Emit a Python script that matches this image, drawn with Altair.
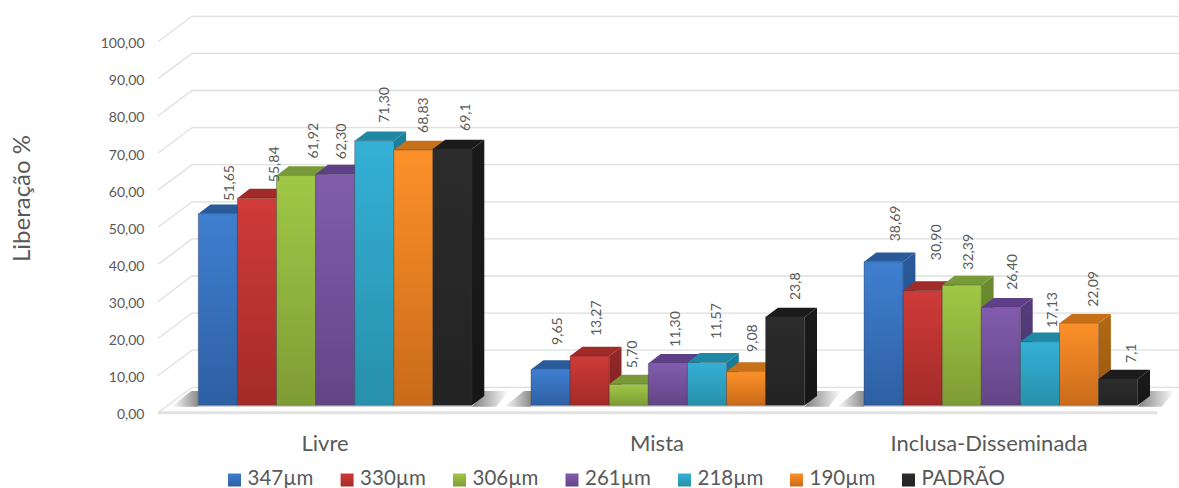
import altair as alt
import pandas as pd

# Release percentage per morphology class and particle size
groups = ["Livre", "Mista", "Inclusa-Disseminada"]
series = ["347µm", "330µm", "306µm", "261µm", "218µm", "190µm", "PADRÃO"]
livre = [51.65, 55.84, 61.92, 62.30, 71.30, 68.83, 69.1]
mista = [9.65, 13.27, 5.70, 11.30, 11.57, 9.08, 23.8]
inclusa = [38.69, 30.90, 32.39, 26.40, 17.13, 22.09, 7.1]
table = [livre, mista, inclusa]
y_ticks = [0, 10, 20, 30, 40, 50, 60, 70, 80, 90, 100]

# Face colours per series: front top, front bottom, top face, side top, side bottom
faces = [
    ("#3f7fd0", "#2e5fa3", "#295a9a", "#2a5a9a", "#234b80"),
    ("#cf3b38", "#a32b29", "#a02b29", "#94292a", "#7e2120"),
    ("#a0c846", "#7f9c35", "#789a38", "#6a8c2e", "#5b7826"),
    ("#815cae", "#634586", "#5f3f88", "#553c7c", "#483367"),
    ("#34b0d6", "#2890ab", "#1f88a5", "#1c7f9c", "#196f88"),
    ("#fd9029", "#c96b1b", "#c7701a", "#b46a14", "#96550f"),
    ("#2c2c2c", "#232323", "#1b1b1b", "#1a1a1a", "#161616"),
]

# Layout of the pseudo-3D scene, in pixels of the drawing area
LEFT = 158.0
WIDTH = 1021.0
HEIGHT = 488.0
SLOT = 39.1            # px per bar
PX_PER_UNIT = 3.71     # px per percentage point
FLOOR_Y = 412.7
GROUP_LEFT = [198.3, 531.0, 864.0]


def sx(px):
    return (px - LEFT) / SLOT


def sy(py):
    return (FLOOR_Y - py) / PX_PER_UNIT


BASE = sy(405.3)       # bar feet sit a little behind the front floor edge
DEPTH_X = 12.3 / SLOT
DEPTH_Y = 9.3 / PX_PER_UNIT
WALL_X = 34.0 / SLOT
WALL_Y = 25.4 / PX_PER_UNIT

# Hand placement of the value labels relative to each bar's front top (px right, px up)
label_nudge = [
    [(12, 13), (18, 16), (17.5, 17), (6.5, 15), (11, 18), (11, 17), (14, 18)],
    [(7.5, 24.6), (7.4, 20), (4.3, 16), (8, 16.5), (10, 23.5), (7, 19.7), (11, 17)],
    [(12.5, 20.5), (14, 30.5), (7.3, 15.5), (12.5, 17.6), (12.7, 14), (15, 16.6), (13.7, 16)],
]

legend_left = [228, 340.6, 453, 565.5, 678, 790, 902]
group_center = [325, 657, 989]

FONT = "Lato"
TEXT = "#595959"
GRID = "#dedede"

x_scale = alt.Scale(domain=[0, WIDTH / SLOT], nice=False, zero=False)
y_scale = alt.Scale(domain=[sy(HEIGHT), sy(0)], nice=False, zero=False)

# Every layer carries the same value axis so that the merged axis stays visible
value_axis = alt.Axis(
    values=y_ticks,
    labelExpr="replace(format(datum.value, '.2f'), '.', ',')",
    domain=False,
    ticks=False,
    grid=False,
    labelFont=FONT,
    labelFontSize=14,
    labelColor=TEXT,
    labelPadding=14,
    labelOffset=2,
    title="Liberação %",
    titleFont=FONT,
    titleFontSize=24,
    titleFontWeight="normal",
    titleColor=TEXT,
    titleX=-124,
    titleY=198,
    titleAngle=270,
)


def X(field="x"):
    return alt.X(f"{field}:Q", scale=x_scale, axis=None)


def Y(field="y"):
    return alt.Y(f"{field}:Q", scale=y_scale, axis=value_axis)


def vgrad(top, bottom):
    return alt.Gradient(
        gradient="linear",
        stops=[alt.GradientStop(color=top, offset=0), alt.GradientStop(color=bottom, offset=1)],
        x1=0, x2=0, y1=0, y2=1,
    )


def hgrad(left, right):
    return alt.Gradient(
        gradient="linear",
        stops=[alt.GradientStop(color=left, offset=0), alt.GradientStop(color=right, offset=1)],
        x1=0, x2=1, y1=0, y2=0,
    )


layers = []

# Back wall gridlines with their slanted run down the left side wall
wall_rows = []
for v in y_ticks:
    wall_rows += [
        {"tick": v, "x": 0, "y": v},
        {"tick": v, "x": WALL_X, "y": v + WALL_Y},
        {"tick": v, "x": WIDTH / SLOT, "y": v + WALL_Y},
    ]
layers.append(
    alt.Chart(pd.DataFrame(wall_rows))
    .mark_line(color=GRID, strokeWidth=1.3)
    .encode(x=X(), y=Y(), detail="tick:N")
)

# Front edge of the floor
layers.append(
    alt.Chart(pd.DataFrame([{"x": 0, "y": 0}, {"x": sx(1157), "y": 0}]))
    .mark_line(color="#e2e2e2", strokeWidth=3)
    .encode(x=X(), y=Y())
)

# Soft floor shadows around each group of bars
FOOT = sy(406.8)
SHADOW_TOP = sy(391)
for g, left in enumerate(GROUP_LEFT):
    right = left + 7 * SLOT
    left_rows = [
        {"y": FOOT, "x": sx(left - 27), "x2": sx(left)},
        {"y": SHADOW_TOP, "x": sx(left - 7), "x2": sx(left)},
    ]
    layers.append(
        alt.Chart(pd.DataFrame(left_rows))
        .mark_area(orient="horizontal", fill=hgrad("#ffffff", "#8a8a8a"))
        .encode(x=X(), x2="x2:Q", y=Y())
    )
    right_rows = [
        {"y": FOOT, "x": sx(right), "x2": sx(right + 24)},
        {"y": SHADOW_TOP, "x": sx(right + 12), "x2": sx(right + 37)},
    ]
    layers.append(
        alt.Chart(pd.DataFrame(right_rows))
        .mark_area(orient="horizontal", fill=hgrad("#808080", "#ffffff"))
        .encode(x=X(), x2="x2:Q", y=Y())
    )
    layers.append(
        alt.Chart(pd.DataFrame([{"x": sx(left), "x2": sx(right), "y": BASE, "y2": FOOT}]))
        .mark_rect(fill="#c4c4c4")
        .encode(x=X(), x2="x2:Q", y=Y(), y2="y2:Q")
    )

# Bars, painted left to right so that each front face covers its neighbour's side
for s, name in enumerate(series):
    front_top, front_bottom, top_face, side_top, side_bottom = faces[s]
    front_rows, top_rows, side_rows = [], [], []
    for g, values in enumerate(table):
        value = values[s]
        x0 = sx(GROUP_LEFT[g]) + s
        x1 = x0 + 1
        peak = BASE + value
        front_rows.append({"x": x0, "x2": x1, "y": BASE, "y2": peak})
        top_rows += [
            {"bar": g, "y": peak, "x": x0, "x2": x1},
            {"bar": g, "y": peak + DEPTH_Y, "x": x0 + DEPTH_X, "x2": x1 + DEPTH_X},
        ]
        side_rows += [
            {"bar": g, "x": x1, "y": peak, "y2": BASE},
            {"bar": g, "x": x1 + DEPTH_X, "y": peak + DEPTH_Y, "y2": BASE + DEPTH_Y},
        ]
    layers.append(
        alt.Chart(pd.DataFrame(side_rows))
        .mark_area(orient="vertical", fill=vgrad(side_top, side_bottom))
        .encode(x=X(), y=Y(), y2="y2:Q", detail="bar:N")
    )
    layers.append(
        alt.Chart(pd.DataFrame(top_rows))
        .mark_area(orient="horizontal", fill=top_face)
        .encode(x=X(), x2="x2:Q", y=Y(), detail="bar:N")
    )
    layers.append(
        alt.Chart(pd.DataFrame(front_rows))
        .mark_rect(fill=vgrad(front_top, front_bottom), stroke="#333333", strokeWidth=0.8, strokeOpacity=0.45)
        .encode(x=X(), x2="x2:Q", y=Y(), y2="y2:Q")
    )

# Value labels, rotated and written with a decimal comma
label_rows = []
for g, values in enumerate(table):
    for s, value in enumerate(values):
        text = f"{value:.1f}" if s == len(values) - 1 else f"{value:.2f}"
        right_px, up_px = label_nudge[g][s]
        label_rows.append(
            {
                "x": sx(GROUP_LEFT[g]) + s + 0.5 + right_px / SLOT,
                "y": BASE + value + up_px / PX_PER_UNIT,
                "label": text.replace(".", ","),
            }
        )
layers.append(
    alt.Chart(pd.DataFrame(label_rows))
    .mark_text(angle=270, align="left", baseline="middle", font=FONT, fontSize=14, color=TEXT)
    .encode(x=X(), y=Y(), text="label:N")
)

# Category names
layers.append(
    alt.Chart(pd.DataFrame({"x": [sx(c) for c in group_center], "y": [sy(444)] * 3, "label": groups}))
    .mark_text(align="center", baseline="middle", font=FONT, fontSize=22, color=TEXT)
    .encode(x=X(), y=Y(), text="label:N")
)

# Legend row: gradient swatch followed by the series name
for s, name in enumerate(series):
    front_top, front_bottom = faces[s][0], faces[s][1]
    layers.append(
        alt.Chart(pd.DataFrame([{"x": sx(legend_left[s] + 6.5), "y": sy(480)}]))
        .mark_square(size=169, fill=vgrad(front_top, front_bottom), opacity=1)
        .encode(x=X(), y=Y())
    )
layers.append(
    alt.Chart(pd.DataFrame({"x": [sx(v + 19.5) for v in legend_left], "y": [sy(478.5)] * 7, "label": series}))
    .mark_text(align="left", baseline="middle", font=FONT, fontSize=20.5, color=TEXT)
    .encode(x=X(), y=Y(), text="label:N")
)

chart = (
    alt.layer(*layers)
    .properties(
        width=WIDTH,
        height=HEIGHT,
        autosize=alt.AutoSizeParams(type="none"),
        padding={"left": LEFT, "top": 0, "right": 0, "bottom": 0},
        background="white",
    )
    .configure_view(stroke=None)
)

chart.save("out.html", embed_options={"renderer": "svg", "actions": False})
